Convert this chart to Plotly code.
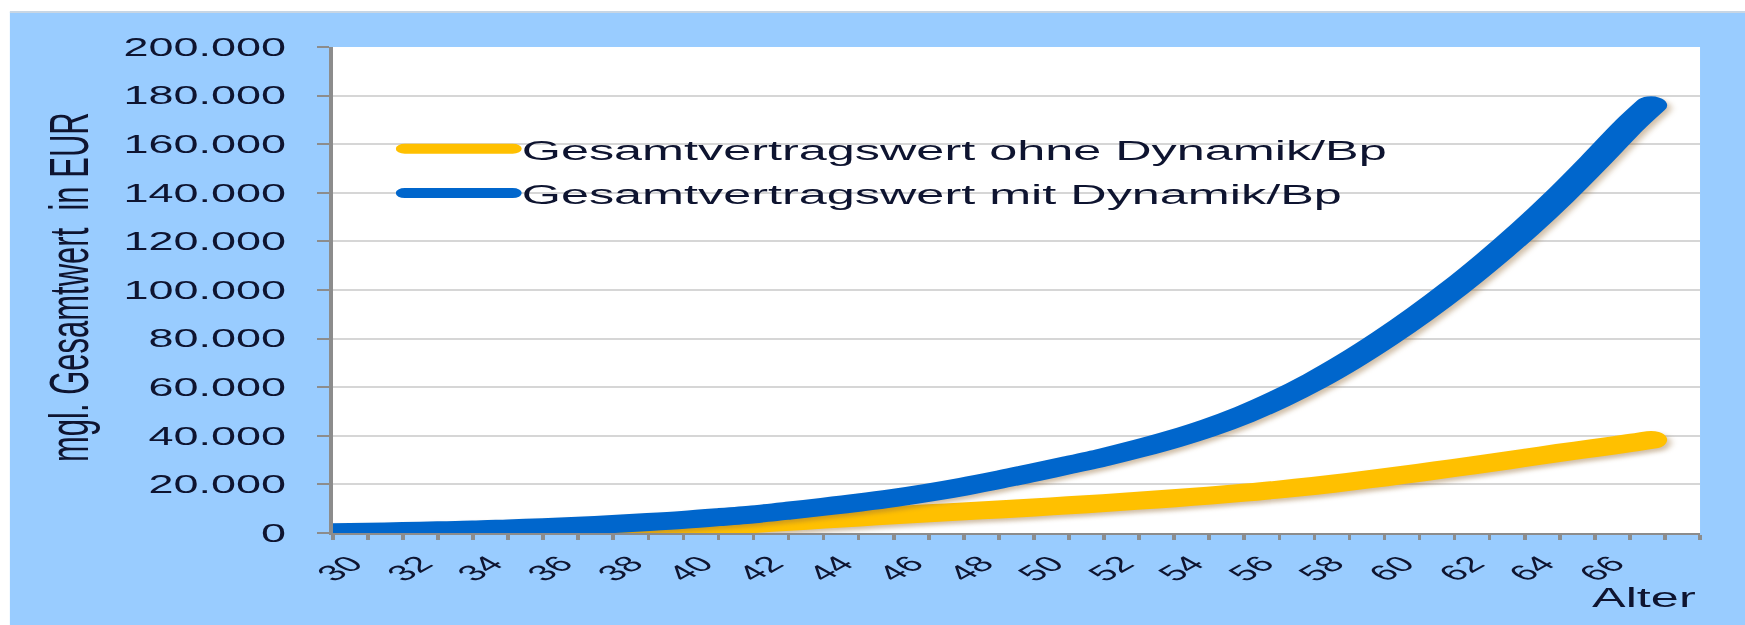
import plotly.graph_objects as go

# ---------------- data ----------------
ages = [30, 31, 32, 33, 34, 35, 36, 37, 38, 39, 40, 41, 42, 43, 44, 45, 46, 47, 48, 49,
        50, 51, 52, 53, 54, 55, 56, 57, 58, 59, 60, 61, 62, 63, 64, 65, 66, 67, 67.6]

wert_ohne_dynamik = [0, 0, 0, 0, 0, 0, 0, 0, 600, 1300,
                     2000, 2800, 3700, 4600, 5500, 6400, 7300, 8100, 8900, 9700,
                     10500, 11400, 12300, 13300, 14300, 15400, 16600, 17900, 19400, 21100,
                     22900, 24800, 26800, 28800, 30900, 33000, 35000, 37000, 38300]

wert_mit_dynamik = [300, 500, 800, 1100, 1400, 1900, 2400, 3000, 3700, 4500,
                    5400, 6500, 7700, 9200, 10800, 12500, 14400, 16600, 19100, 21900,
                    24900, 28000, 31200, 34800, 38800, 43400, 48800, 55200, 62500, 70800,
                    80000, 90000, 100800, 112500, 125000, 138500, 153000, 168000, 176000]

series_names = ["Gesamtvertragswert ohne Dynamik/Bp", "Gesamtvertragswert mit Dynamik/Bp"]
series_colors = ["#FFC000", "#0066CC"]

y_tick_values = [0, 20000, 40000, 60000, 80000, 100000, 120000, 140000, 160000, 180000, 200000]
y_tick_labels = ["0", "20.000", "40.000", "60.000", "80.000", "100.000", "120.000",
                 "140.000", "160.000", "180.000", "200.000"]
x_tick_values = [30, 32, 34, 36, 38, 40, 42, 44, 46, 48, 50, 52, 54, 56, 58, 60, 62, 64, 66]
x_tick_labels = ["30", "32", "34", "36", "38", "40", "42", "44", "46", "48",
                 "50", "52", "54", "56", "58", "60", "62", "64", "66"]
x_range = [30, 69]
y_range = [0, 200000]

y_title = "mgl. Gesamtwert  in EUR"
x_title = "Alter"

# ---------------- layout constants ----------------
W, H = 970, 625                 # drawn size; the page stretches it horizontally to 1745
STRETCH = 1745 / W
ML, MR, MT, MB = 185, 25, 47, 92
PW, PH = W - ML - MR, H - MT - MB
FONT = "Liberation Sans, Arial, sans-serif"
TXT = "#0E1430"
AXIS_GREY = "#8C8C8C"
PANEL = "#99CCFF"


def px_x(px):
    return (px - ML) / PW


def px_y(py):
    return (H - MB - py) / PH


fig = go.Figure()
for name, vals, col, grp in zip(series_names, [wert_ohne_dynamik, wert_mit_dynamik],
                                series_colors, ["a", "b"]):
    fig.add_trace(go.Scatter(
        x=ages, y=vals, name=name, mode="lines", legendgroup=grp,
        line=dict(color=col, width=18, shape="spline", smoothing=0.8),
        hoverinfo="x+y"))

fig.update_layout(
    width=W, height=H,
    margin=dict(l=ML, r=MR, t=MT, b=MB),
    paper_bgcolor=PANEL,
    plot_bgcolor="white",
    font=dict(family=FONT, color=TXT),
    showlegend=True,
    legend=dict(x=px_x(220), y=px_y(124), xanchor="left", yanchor="top",
                bgcolor="rgba(0,0,0,0)", font=dict(size=28, color=TXT),
                itemwidth=60, tracegroupgap=5, traceorder="grouped"),
    xaxis=dict(range=x_range, tickmode="array", tickvals=x_tick_values, ticktext=x_tick_labels,
               tickangle=-45, tickfont=dict(size=22, color=TXT),
               showline=True, linecolor=AXIS_GREY, linewidth=2,
               ticks="outside", ticklen=5, tickcolor=AXIS_GREY, tickwidth=1.5,
               minor=dict(ticks="outside", dtick=1, tick0=30, ticklen=5,
                          tickcolor=AXIS_GREY, tickwidth=1.5),
               ticklabelshift=10, ticklabelstandoff=2,
               showgrid=False, zeroline=False, fixedrange=True),
    yaxis=dict(range=y_range, tickmode="array", tickvals=y_tick_values, ticktext=y_tick_labels,
               tickfont=dict(size=25, color=TXT),
               showline=True, linecolor=AXIS_GREY, linewidth=2,
               ticks="outside", ticklen=7, tickcolor=AXIS_GREY, tickwidth=1.5,
               ticklabelstandoff=12,
               showgrid=True, gridcolor="#D6D6D6", gridwidth=1.5,
               zeroline=False, fixedrange=True),
    annotations=[
        dict(text=y_title, xref="paper", yref="paper", x=px_x(38), y=px_y(287),
             xanchor="center", yanchor="middle", textangle=-90, showarrow=False,
             font=dict(size=31, color=TXT, family=FONT)),
        dict(text=x_title, xref="paper", yref="paper", x=1.0, y=px_y(597),
             xanchor="right", yanchor="middle", showarrow=False,
             font=dict(size=28, color=TXT, family=FONT)),
    ],
    shapes=[
        # white page margin above and left of the light-blue panel
        dict(type="rect", xref="paper", yref="paper", layer="above",
             x0=px_x(-5), x1=px_x(W + 5), y0=px_y(12), y1=px_y(-5),
             fillcolor="white", line=dict(width=0)),
        dict(type="rect", xref="paper", yref="paper", layer="above",
             x0=px_x(-5), x1=px_x(5.5), y0=px_y(H + 5), y1=px_y(-5),
             fillcolor="white", line=dict(width=0)),
        dict(type="line", xref="paper", yref="paper", layer="above",
             x0=px_x(5.5), x1=px_x(W + 5), y0=px_y(12), y1=px_y(12),
             line=dict(color="#C8D6E4", width=2)),
    ],
)

post = (
    "document.body.style.margin='0';"
    "document.body.style.overflow='hidden';"
    "var s=document.createElement('style');"
    "s.textContent='.js-line{stroke-linecap:round;}"
    ".scatterlayer .js-line{filter:drop-shadow(2px 3px 2px rgba(150,110,60,0.45));}';"
    "document.head.appendChild(s);"
    "var d=document.getElementById('{plot_id}');"
    "d.style.transformOrigin='0 0';"
    "d.style.transform='scaleX(%.5f)';" % STRETCH
)

fig.write_html("out.html", post_script=post, config={"displayModeBar": False})
